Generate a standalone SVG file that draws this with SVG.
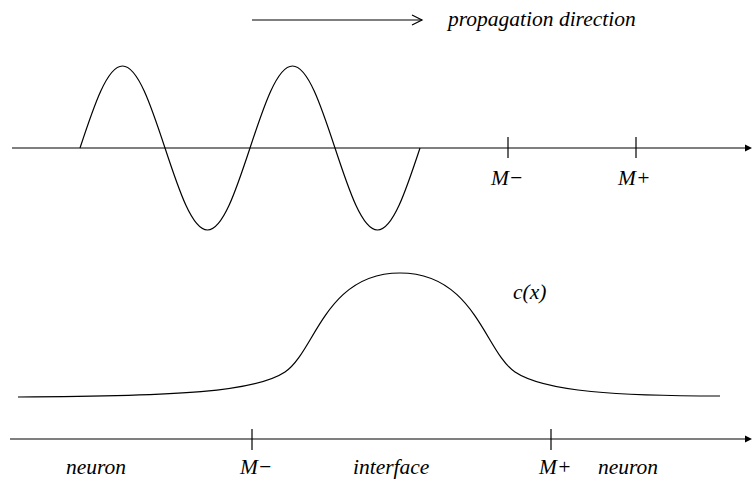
<svg xmlns="http://www.w3.org/2000/svg" width="752" height="483" viewBox="0 0 752 483">
<style>
.ln{fill:none;stroke:#000;stroke-width:1.2}
</style>
<rect width="752" height="483" fill="#fff"/>
<g id="connectors">
<g id="direction-arrow">
<line class="ln" x1="252" y1="20" x2="422" y2="20"/>
<polyline class="ln" points="412,15 422,20 412,25"/>
</g>
<g id="top-axis">
<line class="ln" x1="12" y1="148" x2="748" y2="148"/>
<polygon points="745,144.5 752,148 745,151.5" fill="#000"/>
<line class="ln" x1="508" y1="137" x2="508" y2="158"/>
<line class="ln" x1="636" y1="137" x2="636" y2="158"/>
</g>
<g id="bottom-axis">
<line class="ln" x1="10" y1="439" x2="748" y2="439"/>
<polygon points="745,435.5 752,439 745,442.5" fill="#000"/>
<line class="ln" x1="252" y1="429" x2="252" y2="450"/>
<line class="ln" x1="551" y1="429" x2="551" y2="450"/>
</g>
</g>
<g id="wave">
<path class="ln" d="M80,148 C93.86,106 107.12,66 122.5,66 C137.88,66 151.14,106 165,148 C178.86,190 192.12,230 207.5,230 C222.88,230 236.14,190 250,148 C263.86,106 277.12,66 292.5,66 C307.88,66 321.14,106 335,148 C348.86,190 362.12,230 377.5,230 C392.88,230 406.14,190 420,148"/>
</g>
<g id="concentration">
<path class="ln" d="M18,397 C180,396 255,392 285,372 C315,352 325,273 400,273 C475,273 485,352 515,372 C545,392 620,396 720,396"/>
</g>
<g id="labels" font-family="Liberation Serif" font-style="italic" font-size="21.5" fill="#000">
<text x="448" y="26">propagation direction</text>
<text x="491" y="185">M−</text>
<text x="618" y="185">M+</text>
<text x="513" y="299">c(x)</text>
<text x="66" y="474">neuron</text>
<text x="240" y="474">M−</text>
<text x="353" y="474">interface</text>
<text x="539" y="474">M+</text>
<text x="598" y="474">neuron</text>
</g>
</svg>
